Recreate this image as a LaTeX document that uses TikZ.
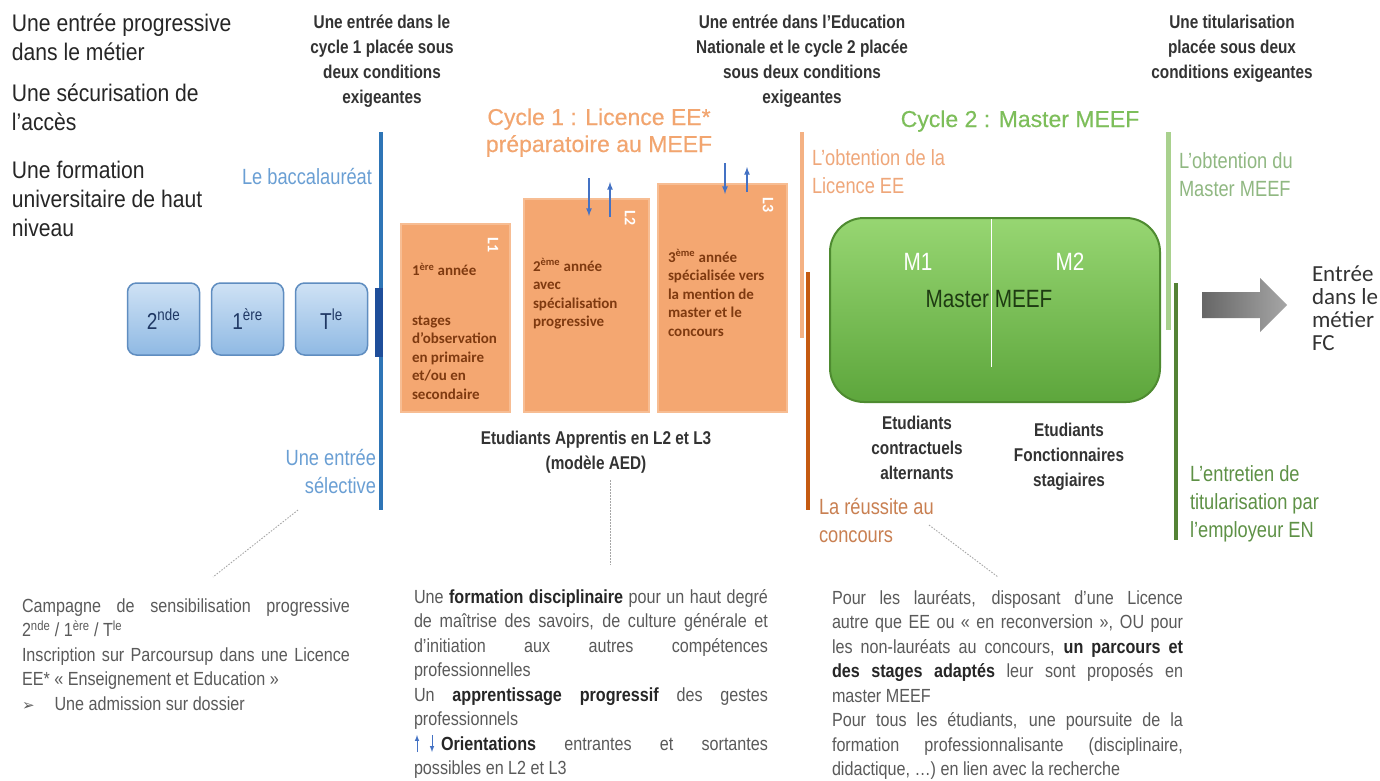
\documentclass[tikz,border=0pt]{standalone}
\usepackage{fontspec}
\setmainfont{Liberation Sans}
\newfontfamily\goalfont[FakeStretch=0.88]{Liberation Sans}
\newfontfamily\condfont[FakeStretch=0.83]{Liberation Sans}
\newfontfamily\parafont[FakeStretch=0.85]{Liberation Sans}
\newfontfamily\cycfont[FakeBold=0.4]{Liberation Sans}
\newfontfamily\calfont{Carlito}
\newfontfamily\symfont{DejaVu Sans}
\usetikzlibrary{positioning,shapes,shadings}
\definecolor{bacblue}{HTML}{2E75B6}
\definecolor{notchblue}{HTML}{1F4E9A}
\definecolor{baclabel}{HTML}{6A9FD4}
\definecolor{orangeline}{HTML}{F4B183}
\definecolor{orangedark}{HTML}{C55A11}
\definecolor{orangelabel}{HTML}{EFA77A}
\definecolor{orangelabeldark}{HTML}{C98052}
\definecolor{cycone}{HTML}{F2A56F}
\definecolor{cyctwo}{HTML}{7DBE5A}
\definecolor{greenline}{HTML}{A9D18E}
\definecolor{greendark}{HTML}{548235}
\definecolor{greenlabel}{HTML}{90B882}
\definecolor{greenlabeldark}{HTML}{5E9146}
\definecolor{meeftop}{HTML}{97D672}
\definecolor{meefbot}{HTML}{5DA63C}
\definecolor{meefline}{HTML}{4E8B30}
\definecolor{meeftext}{HTML}{1E3B12}
\definecolor{yearfill}{HTML}{F4A771}
\definecolor{yearedge}{HTML}{F7BD93}
\definecolor{yearbrown}{HTML}{7F3A10}
\definecolor{lyceetop}{HTML}{CFE2F5}
\definecolor{lyceebot}{HTML}{8FB9E3}
\definecolor{lyceeline}{HTML}{5F8DC0}
\definecolor{navy}{HTML}{1F3864}
\definecolor{goalgrey}{HTML}{262626}
\definecolor{condgrey}{HTML}{333333}
\definecolor{paragrey}{HTML}{5A5A5A}
\definecolor{parabold}{HTML}{262626}
\definecolor{arrowblue}{HTML}{4472C4}
\definecolor{arrowdark}{HTML}{666666}
\definecolor{arrowlight}{HTML}{A6A6A6}
\newcommand{\keyword}[1]{\textbf{\color{parabold}#1}}
\newcommand{\parafmt}{\hyphenpenalty=10000\relax\exhyphenpenalty=10000\relax\tolerance=10000\relax}
\tikzstyle{every node}=[inner sep=0pt,outer sep=0pt]
\tikzstyle{goal}=[font=\goalfont\fontsize{24}{29}\selectfont,text=goalgrey,align=left,anchor=base west]
\tikzstyle{cond}=[font=\condfont\bfseries\fontsize{18.5}{25}\selectfont,text=condgrey,align=center,anchor=base]
\tikzstyle{cyclehead}=[font=\cycfont\fontsize{23}{27}\selectfont,align=center,anchor=base]
\tikzstyle{gate}=[font=\condfont\fontsize{22}{28}\selectfont,align=left,anchor=base west]
\tikzstyle{lycee}=[rounded corners=9pt,minimum width=72pt,minimum height=72pt,top color=lyceetop,bottom color=lyceebot,draw=lyceeline,line width=1.5pt,font=\condfont\fontsize{23}{23}\selectfont,text=navy]
\tikzstyle{year}=[fill=yearfill,draw=yearedge,line width=2.5pt,anchor=north west]
\tikzstyle{yeartext}=[font=\calfont\bfseries\fontsize{15}{18.5}\selectfont,text=yearbrown,align=left,anchor=base west]
\tikzstyle{yearlab}=[font=\calfont\bfseries\fontsize{16}{16}\selectfont,text=white,rotate=-90]
\tikzstyle{master}=[font=\condfont\fontsize{25}{25}\selectfont,anchor=base]
\tikzstyle{statut}=[font=\condfont\bfseries\fontsize{18.5}{25}\selectfont,text=condgrey,align=center,anchor=base]
\tikzstyle{flow}=[line width=1.6pt,->,>=latex,draw=arrowblue]
\tikzstyle{para}=[font=\parafont\fontsize{19}{24.5}\selectfont\parafmt,text=paragrey,align=justify,anchor=base west]
\tikzstyle{callout}=[draw=gray!70,line width=0.9pt,dash pattern=on 1.5pt off 1.5pt]

\begin{document}
\begin{tikzpicture}[x=1pt,y=-1pt]
\useasboundingbox (0,0) rectangle (1380,780);
\fill[white] (0,0) rectangle (1380,780);

% objectifs (base = last line)
\node (goal1) [goal] at (12,60) {Une entrée progressive\\dans le métier};
\node (goal2) [goal] at (12,130) {Une sécurisation de\\l’accès};
\node (goal3) [goal] at (12,236) {Une formation\\universitaire de haut\\niveau};

% conditions
\node (cond1) [cond] at (382,103) {Une entrée dans le\\cycle 1 placée sous\\deux conditions\\exigeantes};
\node (cond2) [cond] at (802,103) {Une entrée dans l’Education\\Nationale et le cycle 2 placée\\sous deux conditions\\exigeantes};
\node (cond3) [cond] at (1232,78) {Une titularisation\\placée sous deux\\conditions exigeantes};

\node (cyc1) [cyclehead,text=cycone] at (599,152) {Cycle 1 : Licence EE*\\préparatoire au MEEF};
\node (cyc2) [cyclehead,text=cyctwo] at (1020,127) {Cycle 2 : Master MEEF};

% lycee
\node (seconde) [lycee] at (163.5,319) {2\textsuperscript{nde}};
\node (premiere) [lycee] at (247.5,319) {1\textsuperscript{ère}};
\node (terminale) [lycee] at (331.5,319) {T\textsuperscript{le}};

% barriere 1
\draw[bacblue,line width=4pt] (381,132) -- (381,510);
\fill[notchblue] (375,288) rectangle (383,357);
\node (bac) [gate,text=baclabel,anchor=base east] at (372,184) {Le baccalauréat};
\node (sel) [gate,text=baclabel,align=right,anchor=base east] at (376,493) {Une entrée\\sélective};

% licence
\node (L1) [year,minimum width=109pt,minimum height=188pt] at (401,224) {};
\node (L2) [year,minimum width=125pt,minimum height=213pt] at (524,199) {};
\node (L3) [year,minimum width=129pt,minimum height=228pt] at (658,184) {};
\node (L1lab) [yearlab] at (493,245) {L1};
\node (L2lab) [yearlab] at (630,218) {L2};
\node (L3lab) [yearlab] at (768,205) {L3};
\node (L1txt) [yeartext] at (412,399) {1\textsuperscript{ère} année\\[31pt]stages\\d’observation\\en primaire\\et/ou en\\secondaire};
\node (L2txt) [yeartext] at (533,326.5) {2\textsuperscript{ème} année\\avec\\spécialisation\\progressive};
\node (L3txt) [yeartext] at (668,336) {3\textsuperscript{ème} année\\spécialisée vers\\la mention de\\master et le\\concours};

\coordinate (L2in) at (589,178);
\coordinate (L2out) at (610,182);
\coordinate (L3in) at (725,163);
\coordinate (L3out) at (747,167);
\draw[flow] (L2in) -- (L2in|-L2.north) -- ++(0,17);
\draw[flow] (L2out|-L2.north) ++(0,18) -- (L2out);
\draw[flow] (L3in) -- (L3in|-L3.north) -- ++(0,10);
\draw[flow] (L3out|-L3.north) ++(0,8) -- (L3out);

\node (apprentis) [statut] at (596,469) {Etudiants Apprentis en L2 et L3\\(modèle AED)};

% barriere 2
\draw[orangeline,line width=4pt] (802,132) -- (802,338);
\draw[orangedark,line width=4pt] (808,272) -- (808,510);
\node (licence) [gate,text=orangelabel] at (812,193) {L’obtention de la\\Licence EE};
\node (concours) [gate,text=orangelabeldark] at (819,542) {La réussite au\\concours};

% master
\node (meef) [rounded corners=34pt,minimum width=330pt,minimum height=184pt,top color=meeftop,bottom color=meefbot,draw=meefline,line width=2pt,anchor=north west] at (830,218) {};
\draw[white,line width=0.8pt] (991,219) -- (991,367);
\node (M1) [master,text=white] at (918,270) {M1};
\node (M2) [master,text=white] at (1070,270) {M2};
\node (meeftitle) [master,text=meeftext] at (989,307) {Master MEEF};
\node (contract) [statut] at (917,479) {Etudiants\\contractuels\\alternants};
\node (stagiaires) [statut] at (1069,486) {Etudiants\\Fonctionnaires\\stagiaires};

% barriere 3
\draw[greenline,line width=5pt] (1168,132) -- (1168,330);
\draw[greendark,line width=4pt] (1176,283) -- (1176,540);
\node (master) [gate,text=greenlabel] at (1179,196) {L’obtention du\\Master MEEF};
\node (entretien) [gate,text=greenlabeldark] at (1190,537) {L’entretien de\\titularisation par\\l’employeur EN};

\shade[left color=arrowdark,right color=arrowlight] (1202,292) -- (1260,292) -- (1260,278) -- (1287,305) -- (1260,332) -- (1260,318) -- (1202,318) -- cycle;
\node (fc) [font=\calfont\fontsize{23}{22.7}\selectfont,text=black!80,align=left,anchor=base west] at (1312,350) {Entrée\\dans le\\métier\\FC};

% commentaires
\node (campagne) [para,text width=328pt] at (22,612) {Campagne de sensibilisation progressive\linebreak 2\textsuperscript{nde} / 1\textsuperscript{ère} / T\textsuperscript{le}\\Inscription sur Parcoursup dans une Licence\linebreak EE* «~Enseignement et Education~»\\{\symfont\fontsize{15}{15}\selectfont ➢}\hspace{20pt}Une admission sur dossier};
\node (formation) [para,text width=354pt] at (414,603) {Une \keyword{formation disciplinaire} pour un haut degré\linebreak de maîtrise des savoirs, de culture générale et\linebreak d’initiation aux autres compétences\linebreak professionnelles\\Un \keyword{apprentissage progressif} des gestes\linebreak professionnels\\\hspace*{27pt}\keyword{Orientations} entrantes et sortantes\linebreak possibles en L2 et L3};
\node (parcours) [para,text width=351pt] at (832,604) {Pour les lauréats, disposant d’une Licence\linebreak autre que EE ou «~en reconversion~», OU pour\linebreak les non-lauréats au concours, \keyword{un parcours et\linebreak des stages adaptés} leur sont proposés en\linebreak master MEEF\\Pour tous les étudiants, une poursuite de la\linebreak formation professionnalisante (disciplinaire,\linebreak didactique, …) en lien avec la recherche};

\coordinate (orient) at (417,752);
\draw[flow,line width=1pt] (orient) -- ++(0,-17);
\draw[flow,line width=1pt] (orient) ++(15,-17) -- ++(0,17);

\coordinate (sel-c) at (298,510);
\coordinate (camp-c) at (213,577);
\coordinate (app-c) at (610,480);
\coordinate (form-c) at (610,565);
\coordinate (conc-c) at (929,525);
\coordinate (parc-c) at (998,577);
\draw[callout] (sel-c) -- (camp-c);
\draw[callout] (app-c) -- (form-c);
\draw[callout] (conc-c) -- (parc-c);
\end{tikzpicture}
\end{document}
